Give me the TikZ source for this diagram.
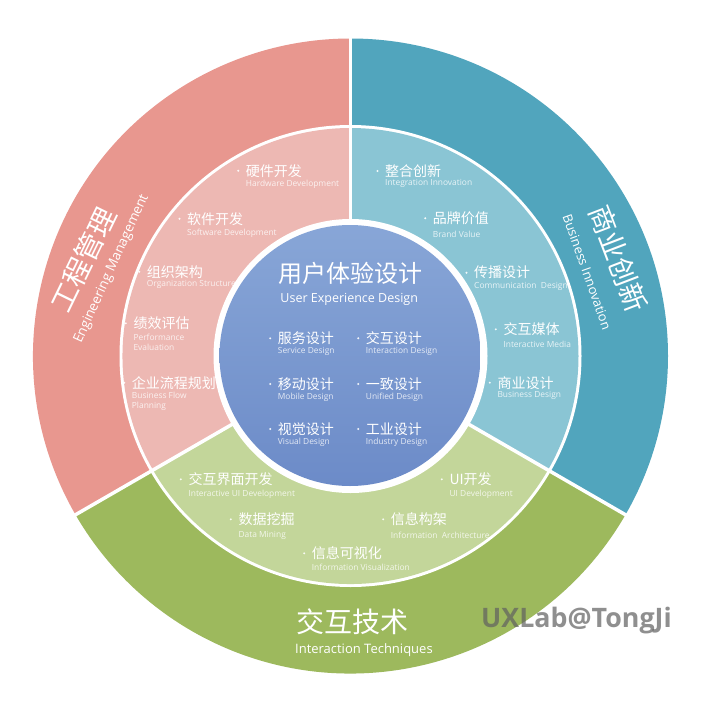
\documentclass[tikz,border=0pt]{standalone}
\usepackage{fontspec}
\setmainfont{Open Sans}
\newfontfamily\cjk{Noto Sans CJK SC}
\newfontfamily\enf{Open Sans}
\definecolor{outRed}{HTML}{E8978F}
\definecolor{midRed}{HTML}{EDB8B3}
\definecolor{outTeal}{HTML}{51A5BD}
\definecolor{midTeal}{HTML}{8AC5D4}
\definecolor{outGreen}{HTML}{9DB95D}
\definecolor{midGreen}{HTML}{C3D69A}
\definecolor{blueTop}{HTML}{88A6D7}
\definecolor{blueBot}{HTML}{6C8BC8}
\definecolor{wmGray}{HTML}{606060}
\tikzset{
  cnlab/.style={font={\cjk\fontsize{14}{16}\selectfont}, text=white, inner sep=0pt, anchor=west},
  enlab/.style={font={\enf\fontsize{8.4}{10}\selectfont}, text=white, text opacity=0.8, inner sep=0pt, anchor=west, align=left},
  bigcn/.style={font={\cjk\fontsize{28}{30}\selectfont}, text=white, inner sep=0pt},
  bigen/.style={font={\enf\fontsize{13}{15}\selectfont}, text=white, inner sep=0pt},
  divider/.style={white, line width=3.5pt},
  bulletdot/.style={white, fill opacity=0.9}
}
% #1 name, #2 x, #3 y (chinese), #4 y (english), #5 chinese, #6 english
\newcommand\uxitem[6]{%
  \fill[bulletdot] (#2-7.5,#3) circle[radius=1.1];
  \node[cnlab] (#1) at (#2,#3) {#5};
  \node[enlab] (#1-en) at (#2,#4) {#6};
}
\begin{document}
\begin{tikzpicture}[x=1pt,y=-1pt]
\fill[white] (0,0) rectangle (704,704);
\useasboundingbox (0,0) rectangle (704,704);
\begin{scope}[shift={(350.5,356)}]
  % outer sectors
  \fill[outRed]   (0,0) -- (150:317.5) arc[start angle=150, end angle=270, radius=317.5] -- cycle;
  \fill[outTeal]  (0,0) -- (270:317.5) arc[start angle=270, end angle=390, radius=317.5] -- cycle;
  \fill[outGreen] (0,0) -- (30:317.5) arc[start angle=30, end angle=150, radius=317.5] -- cycle;
  \fill[white] (0,0) circle[radius=231];
  % middle ring sectors
  \fill[midRed]   (0,0) -- (150:228) arc[start angle=150, end angle=270, radius=228] -- cycle;
  \fill[midTeal]  (0,0) -- (270:228) arc[start angle=270, end angle=390, radius=228] -- cycle;
  \fill[midGreen] (0,0) -- (30:228) arc[start angle=30, end angle=150, radius=228] -- cycle;
  % dividers
  \draw[divider] (0,0) -- (270:320);
  \draw[divider] (0,0) -- (30:320);
  \draw[divider] (0,0) -- (150:320);
  % inner disc
  \fill[white] (0,0) circle[radius=137];
  \shade[top color=blueTop, bottom color=blueBot] (-0.5,-0.5) circle[radius=130.5];
\end{scope}

% centre title
\node[font={\cjk\fontsize{24}{26}\selectfont}, text=white, inner sep=0pt] (title) at (350.5,273.3) {用户体验设计};
\node[font={\enf\fontsize{12.5}{14}\selectfont}, text=white, inner sep=0pt] (title-en) at (349.2,299.3) {User Experience Design};

% inner items
\uxitem{svc}{277.7}{338.3}{351.7}{服务设计}{Service Design}
\uxitem{ixd}{365.7}{338.3}{351.7}{交互设计}{Interaction Design}
\uxitem{mob}{277.7}{384}{397.7}{移动设计}{Mobile Design}
\uxitem{uni}{365.7}{384}{397.7}{一致设计}{Unified Design}
\uxitem{vis}{277.7}{429}{442.7}{视觉设计}{Visual Design}
\uxitem{ind}{365.7}{429}{442.7}{工业设计}{Industry Design}

% engineering ring
\uxitem{hw}{245.7}{170.7}{184.3}{硬件开发}{Hardware Development}
\uxitem{sw}{187}{218.7}{233}{软件开发}{Software Development}
\uxitem{org}{146.7}{271.7}{284.7}{组织架构}{Organization Structure}
\uxitem{perf}{133.3}{323.3}{342.3}{绩效评估}{Performance\\Evaluation}
\uxitem{bpf}{131.7}{382.7}{401}{企业流程规划}{Business Flow\\Planning}

% business ring
\uxitem{integ}{385}{171}{183.7}{整合创新}{Integration Innovation}
\uxitem{brand}{432.7}{218.3}{234}{品牌价值}{Brand Value}
\uxitem{comm}{474}{272.7}{286}{传播设计}{Communication~ Design}
\uxitem{media}{503.3}{329.3}{344}{交互媒体}{Interactive Media}
\uxitem{biz}{497.3}{382.7}{395.3}{商业设计}{Business Design}

% interaction ring
\uxitem{iui}{188.3}{479.3}{494.7}{交互界面开发}{Interactive UI Development}
\uxitem{uidev}{449.3}{479.3}{494.7}{UI开发}{UI Development}
\uxitem{dm}{238.3}{519.3}{535}{数据挖掘}{Data Mining}
\uxitem{ia}{390.7}{519.3}{535}{信息构架}{Information~ Architecture}
\uxitem{iv}{311.7}{553.3}{567.7}{信息可视化}{Information Visualization}

% outer labels
\node[bigcn, anchor=west] (tech) at (296,621.7) {交互技术};
\node[bigen, anchor=west] (tech-en) at (295,650) {Interaction Techniques};
\node[bigcn, rotate=64] (eng) at (83.3,259.6) {工程管理};
\node[bigen, rotate=65.5, font={\enf\fontsize{13.5}{15}\selectfont}] (eng-en) at (111.7,269) {Engineering Management};
\node[bigcn, rotate=-69] (bus) at (618.3,258.5) {商业创新};
\node[bigen, rotate=-70.5] (bus-en) at (587,272) {Business Innovation};

% watermark
\node[font={\enf\bfseries\fontsize{26.8}{28}\selectfont}, text=wmGray, text opacity=0.7, inner sep=0pt, anchor=west] (wm) at (481,621) {UXLab@TongJi};
\end{tikzpicture}
\end{document}
